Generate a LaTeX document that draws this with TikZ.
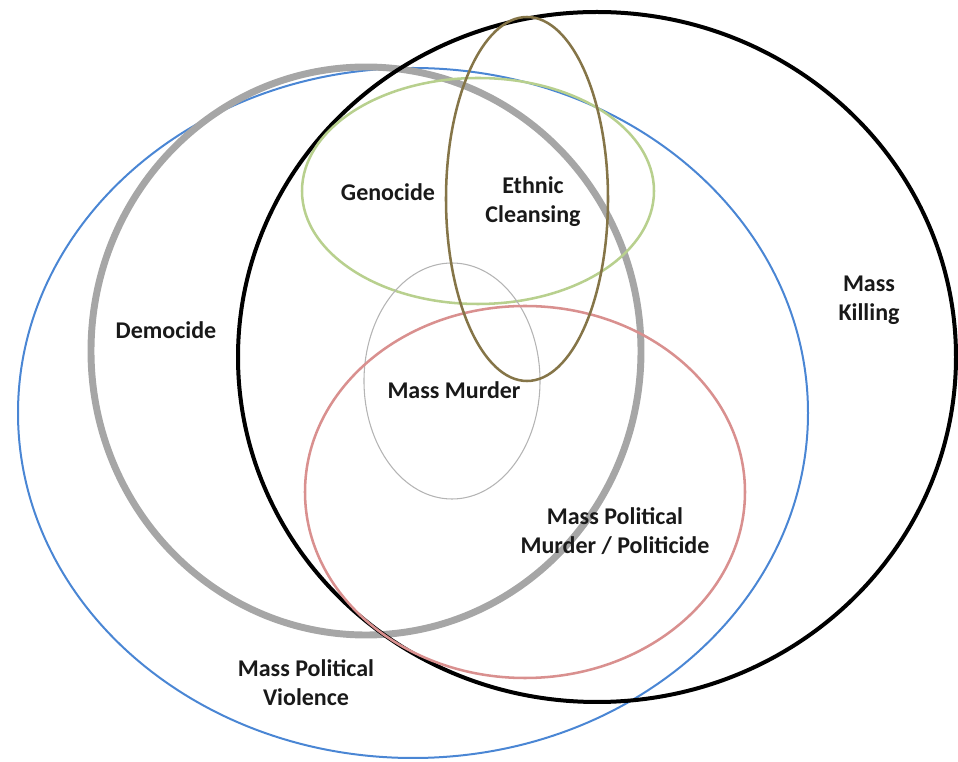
\documentclass[tikz,border=0pt]{standalone}
\usepackage{fontspec}
\setmainfont{Carlito}
\usepackage{xcolor}
\definecolor{vioblue}{HTML}{4A86D4}
\definecolor{genogreen}{HTML}{B8D08E}
\definecolor{ethnolive}{HTML}{857548}
\definecolor{polipink}{HTML}{D9908F}
\definecolor{demogray}{HTML}{A6A6A6}
\definecolor{murdgray}{HTML}{B4B4B4}

\begin{document}
\begin{tikzpicture}
                [x=0.75pt, y=-0.75pt,
                every text node part/.style={align=center},
                lsty/.style={font=\fontsize{18}{21.8}\selectfont\bfseries, text=black!90, inner sep=0pt},
                setsty/.style={line width=#1}]
                \useasboundingbox (0,0) rectangle (958,762);
                % outer sets
                \draw[setsty=1.5pt, vioblue] (413,413) ellipse [x radius=395, y radius=345];
                \draw[setsty=5.2pt, demogray] (366,351) ellipse [x radius=275, y radius=284];
                \draw[setsty=3pt, black] (597,357) ellipse [x radius=359, y radius=345];
                % inner sets
                \draw[setsty=1.9pt, genogreen] (478,191) ellipse [x radius=176, y radius=113];
                \draw[setsty=0.8pt, murdgray] (452,381) ellipse [x radius=88, y radius=118];
                \draw[setsty=1.9pt, polipink] (525,492) ellipse [x radius=220, y radius=186];
                \draw[setsty=1.9pt, ethnolive] (527,199) ellipse [x radius=81, y radius=182];
                % labels
                \node[lsty] (geno) at (388,192) {Genocide};
                \node[lsty] (ethn) at (533,202) {Ethnic\\Cleansing};
                \node[lsty] (demo) at (166,330) {Democide};
                \node[lsty] (kill) at (869,300) {Mass\\Killing};
                \node[lsty] (murd) at (454,390) {Mass Murder};
                \node[lsty] (poli) at (615,531) {Mass Political\\Murder / Politicide};
                \node[lsty] (viol) at (306,683) {Mass Political\\Violence};
            \end{tikzpicture}
\end{document}
